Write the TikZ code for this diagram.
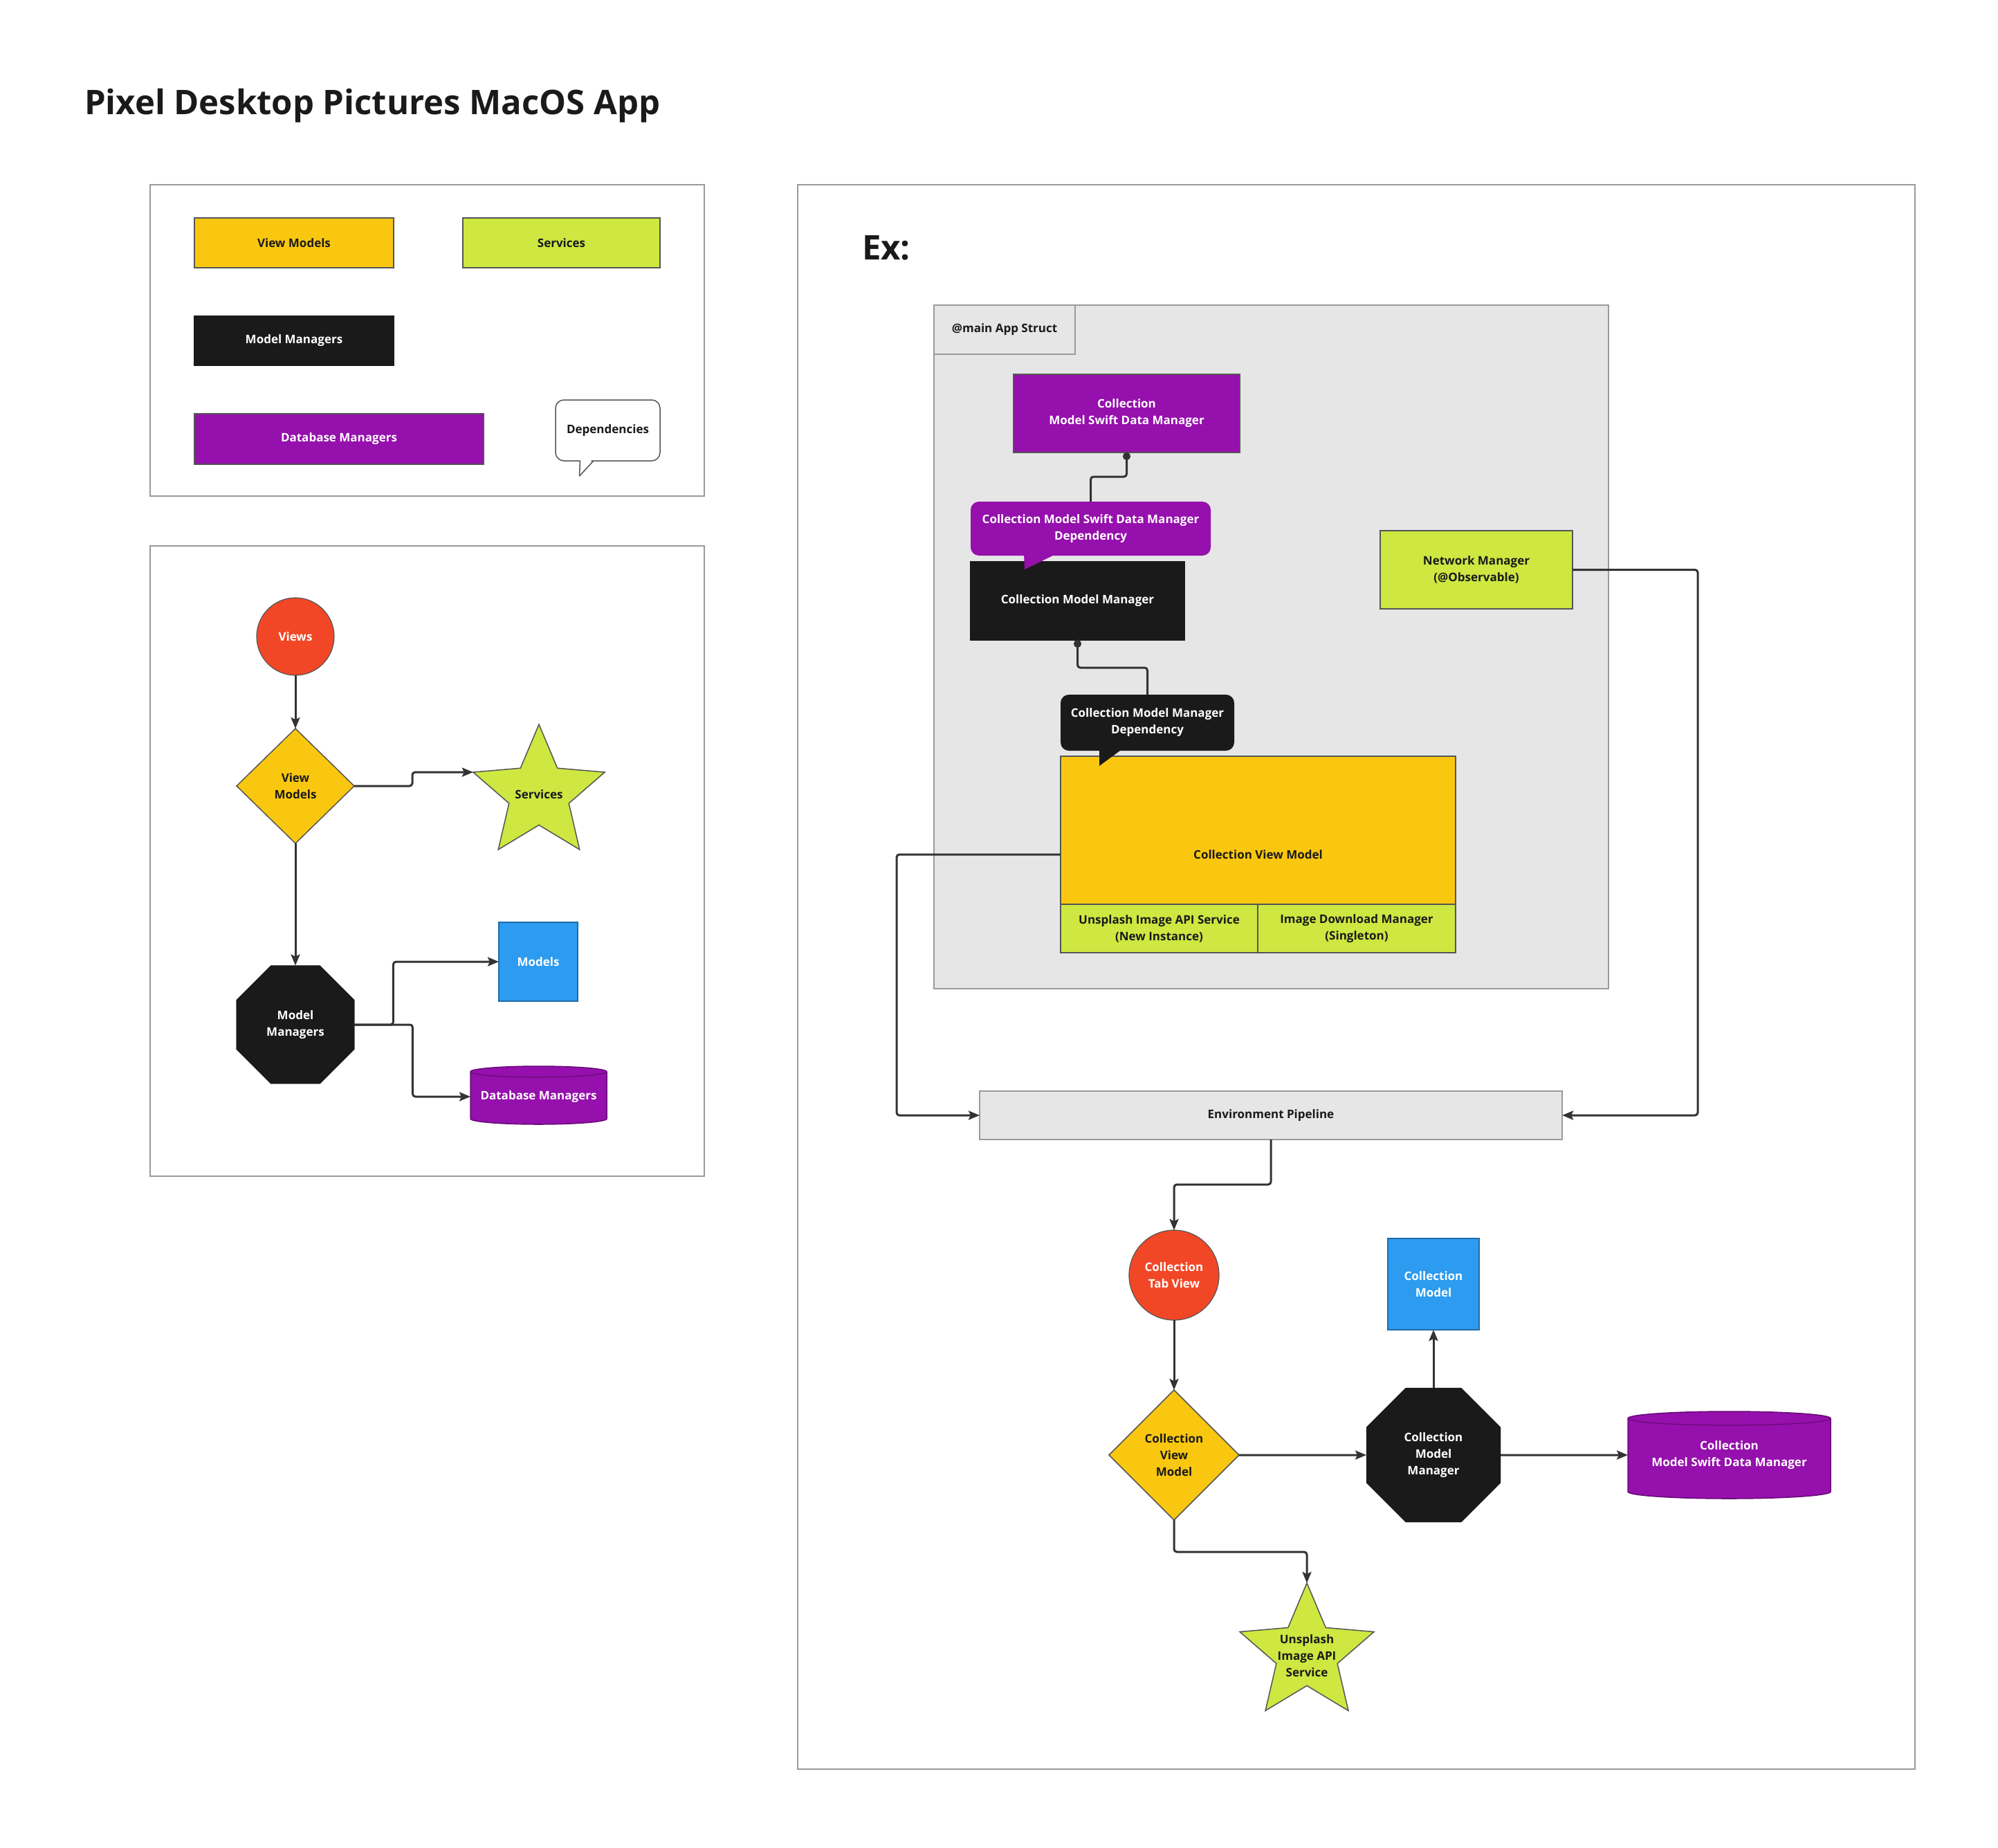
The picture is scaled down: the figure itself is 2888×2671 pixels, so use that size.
\documentclass[tikz,border=0pt]{standalone}
\usepackage{fontspec}
\setmainfont{Open Sans}
\usetikzlibrary{shapes.geometric,arrows.meta,calc}
\definecolor{yel}{HTML}{FAC710}
\definecolor{lime}{HTML}{CEE741}
\definecolor{purp}{HTML}{9510AC}
\definecolor{blk}{HTML}{1A1A1A}
\definecolor{redc}{HTML}{F24726}
\definecolor{bluec}{HTML}{2D9BF0}
\definecolor{lgray}{HTML}{E6E6E6}
\definecolor{frameg}{HTML}{9A9A9A}
\definecolor{shapeb}{HTML}{555555}
\definecolor{conc}{HTML}{333333}
\newcommand\mylbl{\fontsize{17}{24}\selectfont\bfseries}
\newcommand\mybig{\fontsize{49}{60}\selectfont\bfseries}
\tikzset{
  every node/.style={inner sep=0pt, outer sep=0pt, align=center, font=\mylbl, text=blk},
  rbox/.style={rectangle, draw=shapeb, line width=1.5pt},
  wtxt/.style={text=white},
  frame/.style={draw=frameg, line width=2pt},
  con/.style={draw=conc, line width=3pt, rounded corners=4pt},
  arr/.style={con, -{Stealth[length=16pt,width=13pt,inset=3pt]}},
  dotc/.style={con, {Circle[length=11pt,width=11pt]}-},
  oct/.style={regular polygon, regular polygon sides=8, fill=blk, draw=blk, text=white},
  dia/.style={diamond, fill=yel, draw=shapeb, line width=1.5pt},
  starn/.style={star, star points=5, star point ratio=2.2, fill=lime, draw=shapeb, line width=1.5pt},
}
\begin{document}
\begin{tikzpicture}[x=1pt,y=-1pt]
\useasboundingbox (0,0) rectangle (2888,2671);
\fill[white] (0,0) rectangle (2888,2671);

% title
\node[anchor=base west, font=\mybig] (title) at (122,165) {Pixel Desktop Pictures MacOS App};

% ---------- legend ----------
\draw[frame] (217,267) rectangle (1018,717);
\node[rbox, fill=yel, minimum width=288pt, minimum height=72pt] (lvm) at (425,351) {View Models};
\node[rbox, fill=lime, minimum width=285pt, minimum height=72pt] (lsv) at (811.5,351) {Services};
\node[rbox, fill=blk, draw=blk, wtxt, minimum width=288pt, minimum height=71pt] (lmm) at (425,492.5) {Model Managers};
\node[rbox, fill=purp, wtxt, minimum width=418pt, minimum height=73pt] (ldb) at (490,634.5) {Database Managers};
\node[rbox, fill=white, rounded corners=12pt, minimum width=151pt, minimum height=88pt] (ldep) at (878.5,622) {Dependencies};
\fill[white] (839,663) -- (837.5,687) -- (857,663) -- cycle;
\draw[shapeb, line width=1.5pt, line join=round] (838.5,666) -- (837.5,688) -- (858,666);

% ---------- left diagram ----------
\draw[frame] (217,789) rectangle (1018,1700);
\node[circle, fill=redc, draw=shapeb, line width=1.2pt, wtxt, minimum size=112pt] (views) at (427,920) {Views};
\node[dia, minimum width=170pt, minimum height=166pt] (vm) at (427,1136) {View\\Models};
\node[starn, minimum size=200pt] (svc) at (779,1147) {};
\node (svct) at (779,1148) {Services};
\node[oct, minimum size=185pt] (mm) at (427,1481) {Model\\Managers};
\node[rbox, fill=bluec, draw=bluec!70!black, wtxt, minimum width=114pt, minimum height=114pt] (models) at (778,1390) {Models};
\filldraw[fill=purp, draw=purp!70!black, line width=1.5pt] (680,1549) -- (680,1617) arc[start angle=180, end angle=360, x radius=98.5pt, y radius=8pt] -- (877,1549) arc[start angle=0, end angle=180, x radius=98.5pt, y radius=8pt] -- cycle;
\draw[purp!70!black, line width=1.2pt] (680,1549) arc[start angle=180, end angle=360, x radius=98.5pt, y radius=8pt];
\node[wtxt, minimum width=197pt, minimum height=84pt] (dbm) at (778.5,1585) {Database Managers};

\draw[arr] (views) -- (vm);
\draw[arr] (vm.east) -- ++(84,0) |- (svc.outer point 2);
\draw[arr] (vm) -- (mm);
\draw[arr] (mm.east) -- ++(56,0) |- (models.west);
\draw[arr] (mm.east) -- ++(84,0) |- (dbm.west);

% ---------- Ex panel ----------
\draw[frame] (1153,267) rectangle (2768,2557);
\node[anchor=base west, font=\mybig] (ex) at (1246,375) {Ex:};

\filldraw[fill=lgray, draw=frameg, line width=2pt] (1350,441) rectangle (2325,1429);
\node[rectangle, fill=lgray, draw=frameg, line width=2pt, minimum width=204pt, minimum height=71pt] (tab) at (1452,476.5) {@main App Struct};

\node[rbox, fill=purp, wtxt, minimum width=327pt, minimum height=113pt] (csdm) at (1628.5,597.5) {Collection\\Model Swift Data Manager};
\node[rbox, fill=blk, draw=blk, wtxt, minimum width=309pt, minimum height=113pt] (cmmr) at (1557.5,868.5) {Collection Model Manager};
\node[rectangle, fill=purp, wtxt, rounded corners=12pt, minimum width=347pt, minimum height=78pt] (dep1) at (1576.5,764) {Collection Model Swift Data Manager\\Dependency};
\fill[purp] (1480,800) -- (1481,823) -- (1528,800) -- cycle;

\node[rbox, fill=lime, minimum width=278pt, minimum height=113pt] (nm) at (2134,823.5) {Network Manager\\(@Observable)};

\node[rbox, fill=yel, minimum width=571pt, minimum height=284pt] (cvm) at (1818.5,1235) {Collection View Model};
\node[rbox, fill=lime, minimum width=285pt, minimum height=70pt] (cell1) at (1675.5,1342) {Unsplash Image API Service\\(New Instance)};
\node[rbox, fill=lime, minimum width=286pt, minimum height=70pt] (cell2) at (1961,1342) {Image Download Manager\\(Singleton)};

\node[rectangle, fill=blk, wtxt, rounded corners=12pt, minimum width=251pt, minimum height=81pt] (dep2) at (1658.5,1044.5) {Collection Model Manager\\Dependency};
\fill[blk] (1589,1082) -- (1589,1107) -- (1623,1082) -- cycle;

\draw[dotc] (csdm.south) -- ++(0,35) -| (dep1.north);
\draw[dotc] (cmmr.south) -- ++(0,40) -| (dep2.north);

\node[rectangle, fill=lgray, draw=frameg, line width=2pt, minimum width=842pt, minimum height=70pt] (env) at (1837,1612) {Environment Pipeline};

\draw[arr] (cvm.west) -- ++(-237,0) |- (env.west);
\draw[arr] (nm.east) -- ++(181,0) |- (env.east);

% bottom flow
\node[circle, fill=redc, draw=shapeb, line width=1.2pt, wtxt, minimum size=130pt] (ctv) at (1697,1843) {Collection\\Tab View};
\node[dia, minimum width=188pt, minimum height=188pt] (cvd) at (1697,2103) {Collection\\View\\Model};
\node[oct, minimum size=210pt] (cmmo) at (2072,2103) {Collection\\Model\\Manager};
\node[rbox, fill=bluec, draw=bluec!70!black, wtxt, minimum width=132pt, minimum height=132pt] (cm) at (2072,1856) {Collection\\Model};
\filldraw[fill=purp, draw=purp!70!black, line width=1.5pt] (2353,2050) -- (2353,2156) arc[start angle=180, end angle=360, x radius=146.5pt, y radius=10pt] -- (2646,2050) arc[start angle=0, end angle=180, x radius=146.5pt, y radius=10pt] -- cycle;
\draw[purp!70!black, line width=1.2pt] (2353,2050) arc[start angle=180, end angle=360, x radius=146.5pt, y radius=10pt];
\node[wtxt, minimum width=293pt, minimum height=126pt] (cdb) at (2499.5,2103) {Collection\\Model Swift Data Manager};
\node[starn, minimum size=204pt] (ust) at (1889,2390) {};
\node (ustt) at (1889,2393) {Unsplash\\Image API\\Service};

\draw[arr] (env.south) -- ++(0,65) -| (ctv.north);
\draw[arr] (ctv) -- (cvd);
\draw[arr] (cvd.east) -- (cmmo.west);
\draw[arr] (cmmo.north) -- (cm.south);
\draw[arr] (cmmo.east) -- (cdb.west);
\draw[arr] (cvd.south) -- ++(0,46) -| (ust.north);
\end{tikzpicture}
\end{document}
